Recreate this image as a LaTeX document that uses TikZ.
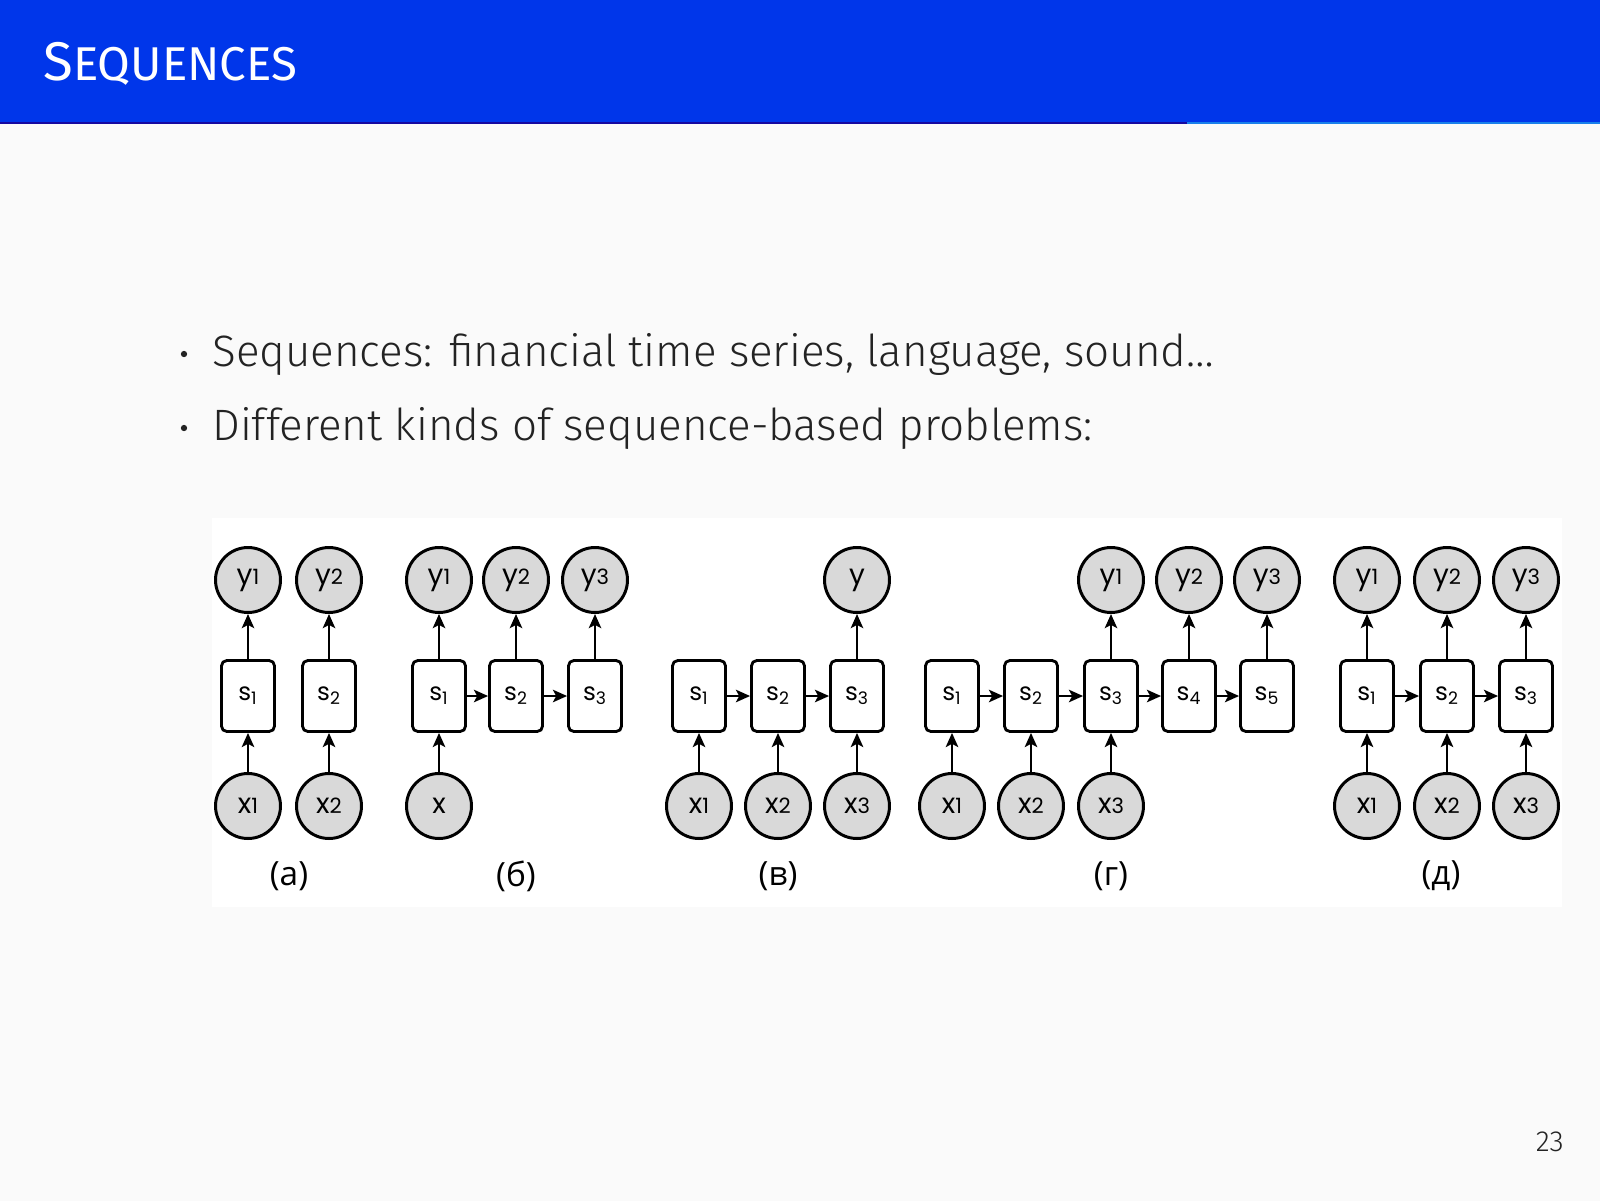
\documentclass[tikz,border=0pt]{standalone}
\usepackage{fontspec}
\setmainfont{Fira Sans Light}
\newfontfamily\titlefont{Fira Sans}
\newfontfamily\figfont{Poppins}
\newfontfamily\lblfont{Open Sans}
\usetikzlibrary{arrows.meta}

\definecolor{headblue}{RGB}{0,54,234}
\definecolor{barnavy}{RGB}{22,8,160}
\definecolor{barlight}{RGB}{25,128,235}
\definecolor{pagebg}{RGB}{250,250,250}
\definecolor{cellgray}{RGB}{217,217,217}
\definecolor{bodytext}{RGB}{35,35,35}

% small figures inside the circles
\newcommand{\cnum}[1]{{\fontsize{12}{12}\selectfont #1}}

\begin{document}
\begin{tikzpicture}[x=0.02cm,y=-0.02cm,
  state/.style={draw,line width=1.6pt,rounded corners=3pt,fill=white,
    minimum width=1.06cm,minimum height=1.42cm,inner sep=0pt,
    font=\figfont\fontsize{14}{14}\selectfont},
  io/.style={circle,draw,line width=1.7pt,fill=cellgray,minimum size=1.3cm,
    inner sep=0pt,font=\figfont\fontsize{16}{16}\selectfont},
  link/.style={-{Stealth[length=8pt,width=7pt,inset=1.8pt]},line width=1.6pt},
  lbl/.style={font=\lblfont\fontsize{19}{19}\selectfont},
  item/.style={anchor=base west,text=bodytext,font=\fontsize{25}{25}\selectfont},
  bullet/.style={circle,fill=bodytext,inner sep=0pt,minimum size=3.6pt}]
  \useasboundingbox (0,0) rectangle (1600,1201);

  % Draw page and header
  \fill[pagebg] (0,0) rectangle (1600,1201);
  \fill[headblue] (0,0) rectangle (1600,122);
  \fill[barnavy] (0,122) rectangle (1187,124);
  \fill[barlight] (1187,122) rectangle (1600,124);
  \node[anchor=base west,text=white,inner sep=0pt] (title) at (43,80)
    {\titlefont\fontsize{31}{31}\selectfont S\fontsize{27}{27}\selectfont EQUENCES};

  % Bullet points
  \node[bullet] (dot1) at (184,354) {};
  \node[item,inner sep=0pt] (item1) at (212,366) {Sequences: financial time series, language, sound…};
  \node[bullet] (dot2) at (184,428) {};
  \node[item,inner sep=0pt] (item2) at (212,440) {Different kinds of sequence-based problems:};

  % Figure area
  \fill[white] (212,518) rectangle (1562,907);

  % (a) one to one
  \foreach \i/\cx in {1/248,2/329} {
    \node[io] (a-y\i) at (\cx,580) {y\cnum{\i}};
    \node[state] (a-s\i) at (\cx,696) {s\textsubscript{\i}};
    \node[io] (a-x\i) at (\cx,806) {x\cnum{\i}};
    \draw[link] (a-x\i) -- (a-s\i);
    \draw[link] (a-s\i) -- (a-y\i);
  }
  \node[lbl] (a-lbl) at (289,876) {(а)};

  % (b) one to many
  \foreach \i/\cx in {1/439,2/516,3/595} {
    \node[state] (b-s\i) at (\cx,696) {s\textsubscript{\i}};
    \node[io] (b-y\i) at (\cx,580) {y\cnum{\i}};
    \draw[link] (b-s\i) -- (b-y\i);
  }
  \node[io] (b-x) at (439,806) {x};
  \draw[link] (b-x) -- (b-s1);
  \foreach \i [count=\j from 2] in {1,2}
    \draw[link] (b-s\i) -- (b-s\j);
  \node[lbl] (b-lbl) at (516,876) {(б)};

  % (c) many to one
  \foreach \i/\cx in {1/699,2/778,3/857} {
    \node[state] (c-s\i) at (\cx,696) {s\textsubscript{\i}};
    \node[io] (c-x\i) at (\cx,806) {x\cnum{\i}};
    \draw[link] (c-x\i) -- (c-s\i);
  }
  \node[io] (c-y) at (857,580) {y};
  \draw[link] (c-s3) -- (c-y);
  \foreach \i [count=\j from 2] in {1,2}
    \draw[link] (c-s\i) -- (c-s\j);
  \node[lbl] (c-lbl) at (778,876) {(в)};

  % (d) many to many, delayed
  \foreach \i/\cx in {1/952,2/1031,3/1111,4/1189,5/1267}
    \node[state] (d-s\i) at (\cx,696) {s\textsubscript{\i}};
  \foreach \i/\cx in {1/952,2/1031,3/1111} {
    \node[io] (d-x\i) at (\cx,806) {x\cnum{\i}};
    \draw[link] (d-x\i) -- (d-s\i);
  }
  \foreach \i/\k/\cx in {1/3/1111,2/4/1189,3/5/1267} {
    \node[io] (d-y\i) at (\cx,580) {y\cnum{\i}};
    \draw[link] (d-s\k) -- (d-y\i);
  }
  \foreach \i [count=\j from 2] in {1,...,4}
    \draw[link] (d-s\i) -- (d-s\j);
  \node[lbl] (d-lbl) at (1111,876) {(г)};

  % (e) many to many, synced
  \foreach \i/\cx in {1/1367,2/1447,3/1526} {
    \node[io] (e-y\i) at (\cx,580) {y\cnum{\i}};
    \node[state] (e-s\i) at (\cx,696) {s\textsubscript{\i}};
    \node[io] (e-x\i) at (\cx,806) {x\cnum{\i}};
    \draw[link] (e-x\i) -- (e-s\i);
    \draw[link] (e-s\i) -- (e-y\i);
  }
  \foreach \i [count=\j from 2] in {1,2}
    \draw[link] (e-s\i) -- (e-s\j);
  \node[lbl] (e-lbl) at (1441,876) {(д)};

  % Page number
  \node[anchor=base east,text=bodytext,inner sep=0pt,font=\fontsize{16.5}{16.5}\selectfont] (pagenum) at (1564,1151) {23};
\end{tikzpicture}
\end{document}
